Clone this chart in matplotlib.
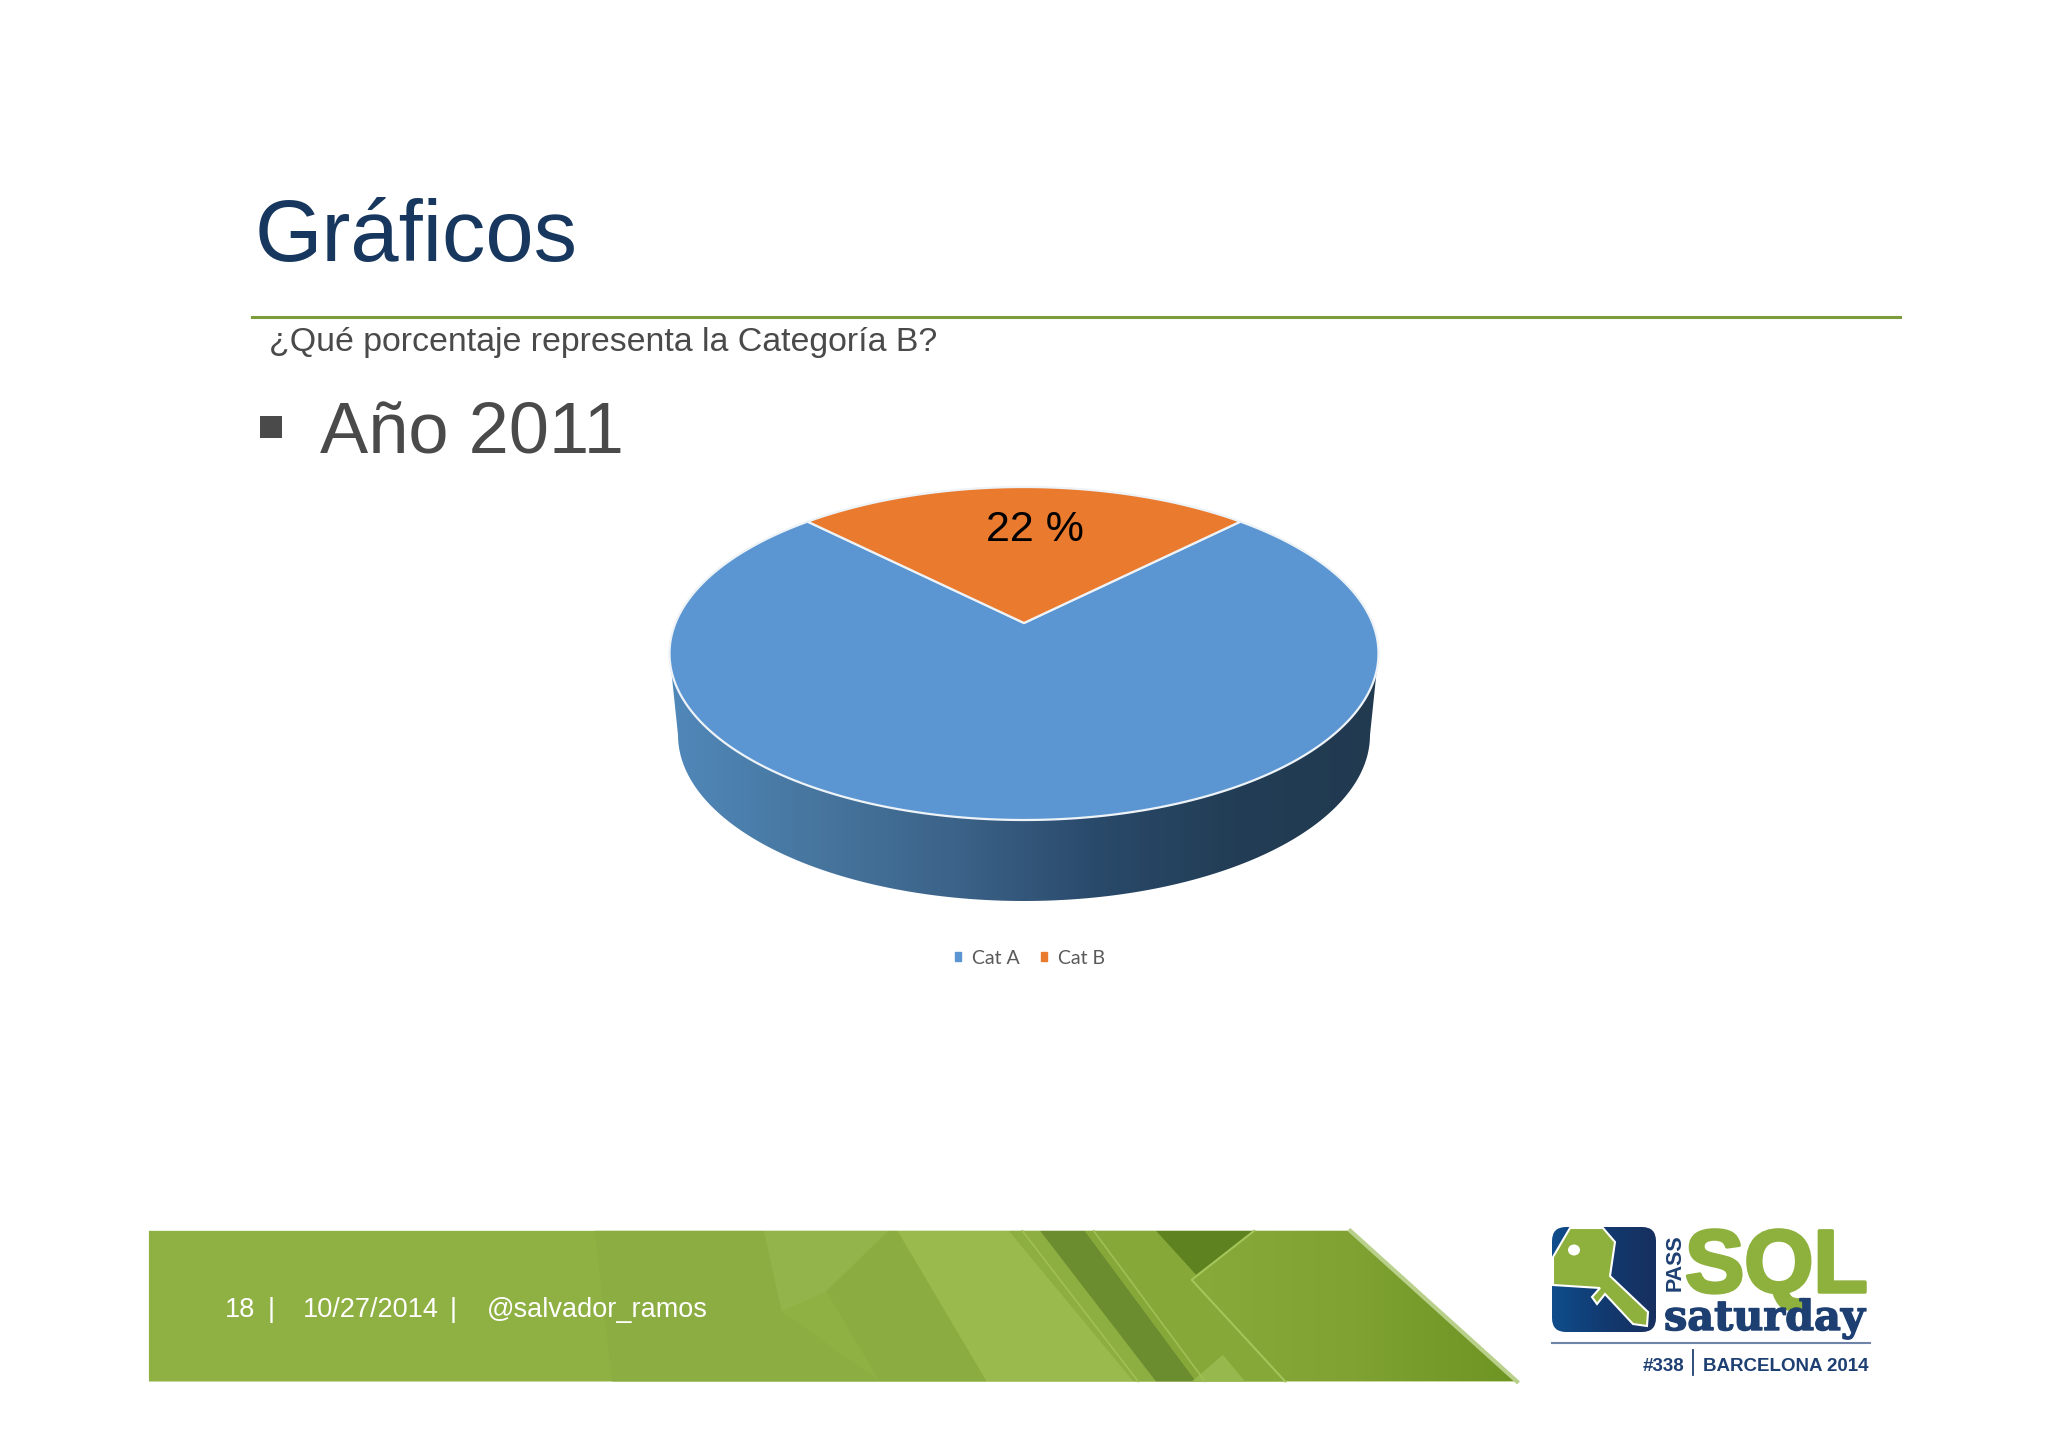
import numpy as np
import matplotlib
matplotlib.use("Agg")
import matplotlib.pyplot as plt
import matplotlib.patheffects as pe
from matplotlib.colors import LinearSegmentedColormap
from matplotlib.patches import Ellipse, FancyBboxPatch, Patch, Polygon, Rectangle

W, H = 2048, 1447

categories = ["Cat A", "Cat B"]
shares = [78, 22]
slice_colors = ["#5b96d2", "#e97a2e"]
label_text = "22 %"

title = "Gráficos"
subtitle = "¿Qué porcentaje representa la Categoría B?"
bullet = "Año 2011"
footer_parts = [("18", 225), ("|", 268), ("10/27/2014", 303), ("|", 450), ("@salvador_ramos", 487)]

SANS = "Liberation Sans"
NAVY = "#1d3f72"
GREEN = "#8eb03c"

# pie geometry in picture pixels
CX, CY, RX, RY = 1024, 653.5, 354.5, 166.5
APEX_Y = 623
WALL_CY, WALL_RX, WALL_RY = 735, 346, 166
SEAM_SQUEEZE = 0.95  # 3D view narrows the slice a little


def gradient(ax, colors, clip, extent):
    cmap = LinearSegmentedColormap.from_list("g", colors)
    im = ax.imshow(np.linspace(0, 1, 256)[None, :], cmap=cmap, extent=extent, aspect="auto", zorder=clip.get_zorder())
    clip.set_facecolor("none")
    clip.set_edgecolor("none")
    ax.add_patch(clip)
    im.set_clip_path(clip)


def band_pts(zoom_pts):
    return [(140 + x / 1.122, 1211.5 + y / 3) for x, y in zoom_pts]


def draw_footer(ax):
    ax.add_patch(Polygon(band_pts([(10, 58), (1358, 58), (1545, 510), (10, 510)]), fc="#8fb043", ec="none", zorder=1))
    facets = [
        ([(510, 58), (700, 58), (720, 300), (830, 510), (530, 510)], "#8cad41"),
        ([(700, 58), (840, 58), (770, 240), (720, 300)], "#93b44a"),
        ([(840, 58), (850, 58), (950, 510), (830, 510), (770, 240)], "#8bac40"),
        ([(850, 58), (975, 58), (1115, 510), (950, 510)], "#9aba4e"),
        ([(975, 58), (1010, 58), (1140, 510), (1115, 510)], "#8dae40"),
        ([(1010, 58), (1060, 58), (1185, 510), (1140, 510)], "#6c8c30"),
        ([(1060, 58), (1140, 58), (1185, 190), (1180, 205), (1285, 510), (1185, 510)], "#85a838"),
        ([(1140, 58), (1250, 58), (1185, 190)], "#5f8220"),
        ([(1215, 430), (1240, 510), (1180, 510)], "#97b84c"),
    ]
    for pts, color in facets:
        ax.add_patch(Polygon(band_pts(pts), fc=color, ec="none", zorder=2))
    panel = Polygon(band_pts([(1250, 58), (1358, 58), (1545, 510), (1285, 510), (1180, 205)]), zorder=3)
    gradient(ax, ["#88aa3a", "#7fa233", "#6e9422"], panel, (140 + 1180 / 1.122, 140 + 1545 / 1.122, 1381.5, 1230.5))
    ax.plot(*zip(*band_pts([(1250, 58), (1180, 205), (1285, 510)])), color="#a3c55a", lw=1.5, zorder=4)
    ax.plot(*zip(*band_pts([(1358, 58), (1545, 510)])), color="#b9d08a", lw=3, zorder=4)
    ax.plot(*zip(*band_pts([(1070, 58), (1195, 510)])), color="#a0c055", lw=1.2, zorder=4)
    ax.plot(*zip(*band_pts([(990, 58), (1120, 510)])), color="#a0c055", lw=1.2, zorder=4)


def draw_logo(ax):
    box = FancyBboxPatch((1560, 1235), 88, 89, boxstyle="round,pad=8,rounding_size=14", mutation_scale=1, zorder=1)
    gradient(ax, ["#0f4d8c", "#123a70", "#17305f"], box, (1552, 1656, 1332, 1227))
    key = [(1553, 1257), (1570, 1228), (1603, 1228), (1615, 1242), (1610, 1276), (1648, 1312), (1647, 1326),
           (1633, 1324), (1605, 1294), (1597, 1304), (1592, 1297), (1600, 1288), (1553, 1285)]
    ax.add_patch(Polygon(key, fc=GREEN, ec="white", lw=1.5, zorder=5))
    ax.add_patch(Ellipse((1574, 1250), 12, 11, fc="white", ec="none", zorder=6))
    ax.text(1686, 1291, "PASS", rotation=90, family=SANS, weight="bold", fontsize=15.5, color=NAVY,
            ha="right", va="bottom", zorder=6)
    ax.text(1685, 1292, "SQL", family=SANS, weight="bold", fontsize=64, color=GREEN, va="baseline", zorder=6,
            path_effects=[pe.withStroke(linewidth=2.5, foreground=GREEN)])
    ax.text(1664, 1330, "saturday", family="DejaVu Serif", weight="bold", fontsize=29.8, color=NAVY, va="baseline",
            zorder=6, path_effects=[pe.withStroke(linewidth=1, foreground=NAVY)])
    ax.plot([1552, 1870], [1343, 1343], color="#6f84a8", lw=1.5, zorder=6)
    ax.text(1643, 1371, "#338", family=SANS, weight="bold", fontsize=13.5, color=NAVY, va="baseline", zorder=6)
    ax.plot([1693, 1693], [1350, 1375], color=NAVY, lw=1.3, zorder=6)
    ax.text(1703, 1371, "BARCELONA 2014", family=SANS, weight="bold", fontsize=13.5, color=NAVY, va="baseline", zorder=6)


def draw_pie(fig, ax):
    # side wall first, top face goes over it
    t = np.radians(np.linspace(180, 360, 200))
    wall = [(CX - RX, CY)] + list(zip(CX + WALL_RX * np.cos(t), WALL_CY + WALL_RY * -np.sin(t))) + [(CX + RX, CY)]
    wall = Polygon(wall, zorder=2)
    gradient(ax, ["#5088ba", "#47769f", "#3c6389", "#2a4a6b", "#223d55", "#213a50"], wall,
             (CX - RX, CX + RX, WALL_CY + WALL_RY, CY))

    pie_ax = fig.add_axes([(CX - 1.25 * RX) / W, 1 - (CY + 1.25 * RY) / H, 2.5 * RX / W, 2.5 * RY / H], zorder=3)
    start = 90 + shares[1] / sum(shares) * 180
    wedges, _ = pie_ax.pie(shares, colors=slice_colors, startangle=start)
    pie_ax.set_aspect("auto")
    pie_ax.patch.set_alpha(0)

    # the slide's perspective moves the apex up from the ellipse centre
    apex = (0, (CY - APEX_Y) / RY)
    half = (wedges[1].theta2 - wedges[1].theta1) / 2 * SEAM_SQUEEZE
    spans = [(90 + half, 450 - half), (90 - half, 90 + half)]
    for wedge, (t1, t2) in zip(wedges, spans):
        a = np.radians(np.linspace(t1, t2, 300))
        pts = np.column_stack([np.cos(a), np.sin(a)])
        pie_ax.add_patch(Polygon(np.vstack([pts, apex]), fc=wedge.get_facecolor(), ec="#eef3f8", lw=1.6))
        wedge.set_visible(False)

    pie_ax.text(1035, 541, label_text, family=SANS, fontsize=31, color="black", ha="center", va="baseline",
                transform=ax.transData, clip_on=False)
    handles = [Patch(color=c) for c in slice_colors]
    ax.legend(handles, categories, loc="center", bbox_to_anchor=(1030, 958),
              bbox_transform=ax.transData, frameon=False, ncols=2,
              prop={"family": "Lato", "size": 14}, labelcolor="#595959",
              handlelength=0.32, handleheight=0.32, handletextpad=0.6, columnspacing=1.05)


def main() -> None:
    fig = plt.figure(figsize=(W / 100, H / 100), dpi=100, facecolor="white")
    ax = fig.add_axes([0, 0, 1, 1])

    ax.text(255, 261, title, family=SANS, fontsize=62.5, color="#17375e", va="baseline")
    ax.plot([252, 1900], [317, 317], color="#7d9c3c", lw=2.2)
    ax.text(269, 351, subtitle, family=SANS, fontsize=24.4, color="#4a4a4a", va="baseline")
    ax.add_patch(Rectangle((260, 416), 22, 22, fc="#4a4a4a", ec="none"))
    ax.text(320, 454, bullet, family=SANS, fontsize=52, color="#4a4a4a", va="baseline")

    draw_pie(fig, ax)
    draw_footer(ax)
    for part, x in footer_parts:
        ax.text(x, 1317, part, family=SANS, fontsize=19.5, color="white", va="baseline", zorder=6)
    draw_logo(ax)

    ax.set_xlim(0, W)
    ax.set_ylim(H, 0)
    ax.axis("off")
    fig.savefig("out.png", dpi=100, facecolor="white")
    plt.close(fig)


if __name__ == "__main__":
    main()
